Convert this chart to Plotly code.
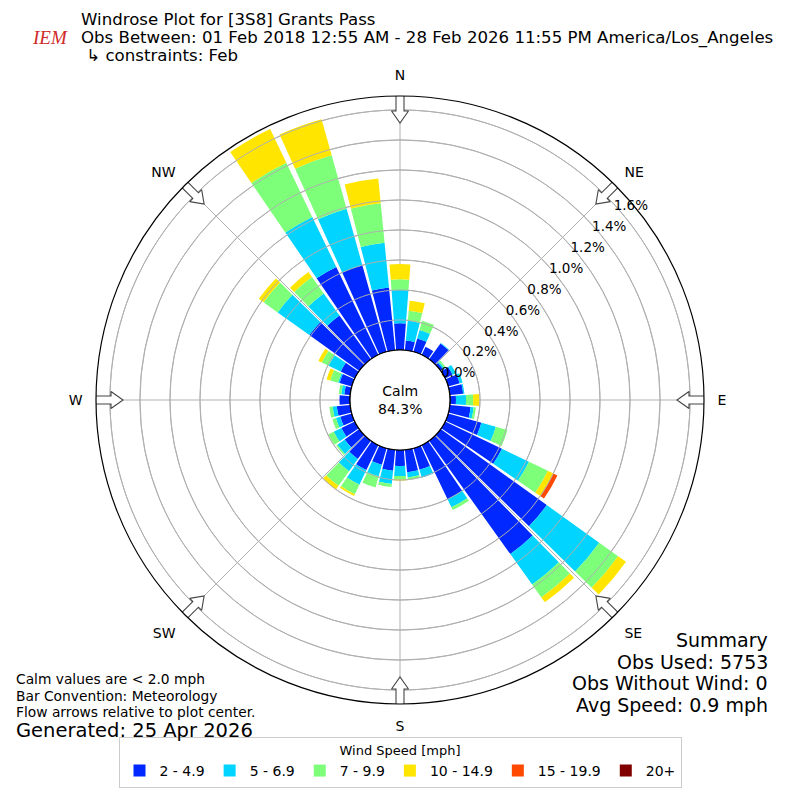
import math
import plotly.graph_objects as go

# wind directions (deg, meteorological) and speed bins
directions = list(range(0, 360, 10))
speed_bins = ["2 - 4.9", "5 - 6.9", "7 - 9.9", "10 - 14.9", "15 - 19.9", "20+"]
bin_colors = ["#0028ff", "#00d4ff", "#7dff7a", "#ffe500", "#ff4800", "#800000"]

# percent of observations, one list per speed bin, ordered by direction 0..350
pct_2_5 = [0.178, 0.065, 0.093, 0.06, 0.13, 0.02, 0.055, 0.08, 0.09, 0.04, 0.14, 0.23,
           0.42, 0.87, 0.93, 0.40, 0.15, 0.15, 0.107, 0.14, 0.115, 0.185, 0.15, 0.12,
           0.10, 0.08, 0.09, 0.07, 0.04, 0.085, 0.105, 0.41, 0.36, 0.65, 0.60, 0.42]
pct_5_7 = [0.222, 0.132, 0.058, 0.0, 0.005, 0.01, 0.025, 0.02, 0.008, 0.067, 0.02, 0.10,
           0.20, 0.43, 0.25, 0.06, 0.055, 0.035, 0.067, 0.09, 0.08, 0.108, 0.10, 0.06,
           0.056, 0.03, 0.028, 0.0, 0.02, 0.01, 0.09, 0.26, 0.18, 0.37, 0.39, 0.30]
pct_7_10 = [0.071, 0.068, 0.064, 0.0, 0.0, 0.012, 0.0, 0.0, 0.0, 0.048, 0.015, 0.08,
            0.14, 0.155, 0.105, 0.02, 0.0, 0.015, 0.022, 0.02, 0.078, 0.07, 0.12, 0.01,
            0.04, 0.025, 0.022, 0.0, 0.017, 0.055, 0.05, 0.115, 0.135, 0.40, 0.37, 0.265]
pct_10_15 = [0.102, 0.067, 0.0, 0.0, 0.0, 0.0, 0.0, 0.0, 0.0, 0.04, 0.0, 0.0,
             0.04, 0.065, 0.04, 0.0, 0.0, 0.0, 0.008, 0.0, 0.0, 0.013, 0.03, 0.0,
             0.0, 0.0, 0.0, 0.0, 0.0, 0.025, 0.025, 0.04, 0.04, 0.25, 0.25, 0.165]
pct_15_20 = [0.0] * 12 + [0.03] + [0.0] * 23
pct_20_up = [0.0] * 36

radial_ticks = [0.0, 0.2, 0.4, 0.6, 0.8, 1.0, 1.2, 1.4, 1.6]
compass_deg = [0, 45, 90, 135, 180, 225, 270, 315]
compass_txt = ["N", "NE", "E", "SE", "S", "SW", "W", "NW"]

calm_pct = 84.3
title_lines = ["Windrose Plot for [3S8] Grants Pass",
               "Obs Between: 01 Feb 2018 12:55 AM - 28 Feb 2026 11:55 PM America/Los_Angeles",
               " ↳ constraints: Feb"]
notes = ["Calm values are < 2.0 mph", "Bar Convention: Meteorology",
         "Flow arrows relative to plot center."]
generated = "Generated: 25 Apr 2026"
summary = ["Summary", "Obs Used: 5753", "Obs Without Wind: 0", "Avg Speed: 0.9 mph"]

# the page body has an 8px margin, so the figure is drawn 8px in from the corner
PAGE_OFF = 8
W = H = 800 - 2 * PAGE_OFF
R_MAX = 1.693
OUTER_PX = 304.0
HOLE_PX = 50.0
FONT = "DejaVu Sans"
GRID = "#b0b0b0"

fig = go.Figure()

series = [pct_2_5, pct_5_7, pct_7_10, pct_10_15, pct_15_20, pct_20_up]
for name, col, vals in zip(speed_bins, bin_colors, series):
    fig.add_trace(go.Barpolar(r=vals, theta=directions, name=name, width=8.8,
                              marker=dict(color=col, line=dict(width=0))))

# range rings drawn again on top of the bars, like the original
circ = list(range(0, 361, 2))
for v in radial_ticks[1:]:
    fig.add_trace(go.Scatterpolar(r=[v] * len(circ), theta=circ, mode="lines",
                                  line=dict(color=GRID, width=1),
                                  showlegend=False, hoverinfo="skip"))

# black edge of the calm circle
fig.add_trace(go.Scatterpolar(r=[0] * len(circ), theta=circ, mode="lines",
                              line=dict(color="black", width=1.2),
                              showlegend=False, hoverinfo="skip"))


# hollow flow arrows at the compass points, pointing to the centre
def to_r(px):
    return (px - HOLE_PX) * R_MAX / (OUTER_PX - HOLE_PX)


arrow_shape = [(307, -4), (289, -4), (289, -8.5), (277, 0), (289, 8.5), (289, 4), (307, 4), (307, -4)]
for ang in compass_deg:
    rr, tt = [], []
    for d, w in arrow_shape:
        rr.append(to_r(math.hypot(d, w)))
        tt.append(ang + math.degrees(math.atan2(w, d)))
    fig.add_trace(go.Scatterpolar(r=rr, theta=tt, mode="lines", fill="toself",
                                  fillcolor="white", line=dict(color="#444444", width=1.1),
                                  cliponaxis=False, showlegend=False, hoverinfo="skip"))

half = OUTER_PX / W
fig.update_layout(
    width=W, height=H,
    margin=dict(l=0, r=0, t=0, b=0),
    paper_bgcolor="white",
    font=dict(family=FONT, color="black"),
    polar=dict(
        domain=dict(x=[0.5 - half, 0.5 + half], y=[0.5 - half, 0.5 + half]),
        hole=HOLE_PX / OUTER_PX,
        bgcolor="white",
        barmode="stack",
        radialaxis=dict(range=[0, R_MAX], tickvals=radial_ticks,
                        ticktext=[f"{v:.1f}%" for v in radial_ticks],
                        angle=44, tickangle=44, side="clockwise", showline=False, ticks="",
                        gridcolor=GRID, gridwidth=1, layer="above traces",
                        tickfont=dict(size=13.5, color="black")),
        angularaxis=dict(rotation=90, direction="clockwise",
                         tickvals=compass_deg, ticktext=compass_txt,
                         ticks="outside", ticklen=10, tickcolor="rgba(0,0,0,0)",
                         showline=True, linecolor="black", linewidth=1.2,
                         gridcolor=GRID, gridwidth=1, layer="above traces",
                         tickfont=dict(size=14, color="black")),
    ),
    legend=dict(orientation="h", x=0.5, xanchor="center", y=0.005, yanchor="bottom",
                title=dict(text="Wind Speed [mph]", side="top center", font=dict(size=13)),
                font=dict(size=14), bordercolor="#cccccc", borderwidth=1,
                bgcolor="white", itemwidth=30),
    showlegend=True,
)


def px(x, y):
    # reference pixel position -> paper coordinates
    return (x - PAGE_OFF) / W, 1 - (y - PAGE_OFF) / H


ann = []
for i, line in enumerate(title_lines):
    x, y = px(79, 20 + i * 17.6)
    ann.append(dict(x=x, y=y, text=line, xanchor="left", font=dict(size=16.6)))
x, y = px(30, 37)
ann.append(dict(x=x, y=y, text="<i>IEM</i>", font=dict(family="Liberation Serif", size=19, color="#d02a2a")))
x, y = px(400, 400)
ann.append(dict(x=x, y=y, text=f"Calm<br>{calm_pct:.1f}%", font=dict(size=14)))
for i, line in enumerate(notes):
    x, y = px(14, 679 + i * 16.5)
    ann.append(dict(x=x, y=y, text=line, xanchor="left", font=dict(size=13.8)))
x, y = px(14, 730)
ann.append(dict(x=x, y=y, text=generated, xanchor="left", font=dict(size=19.5)))
for i, line in enumerate(summary):
    x, y = px(770, 640 + i * 21.7)
    ann.append(dict(x=x, y=y, text=line, xanchor="right", font=dict(size=19)))
for a in ann:
    a.update(xref="paper", yref="paper", showarrow=False, yanchor="middle")
fig.update_layout(annotations=ann)

fig.write_html("out.html")
